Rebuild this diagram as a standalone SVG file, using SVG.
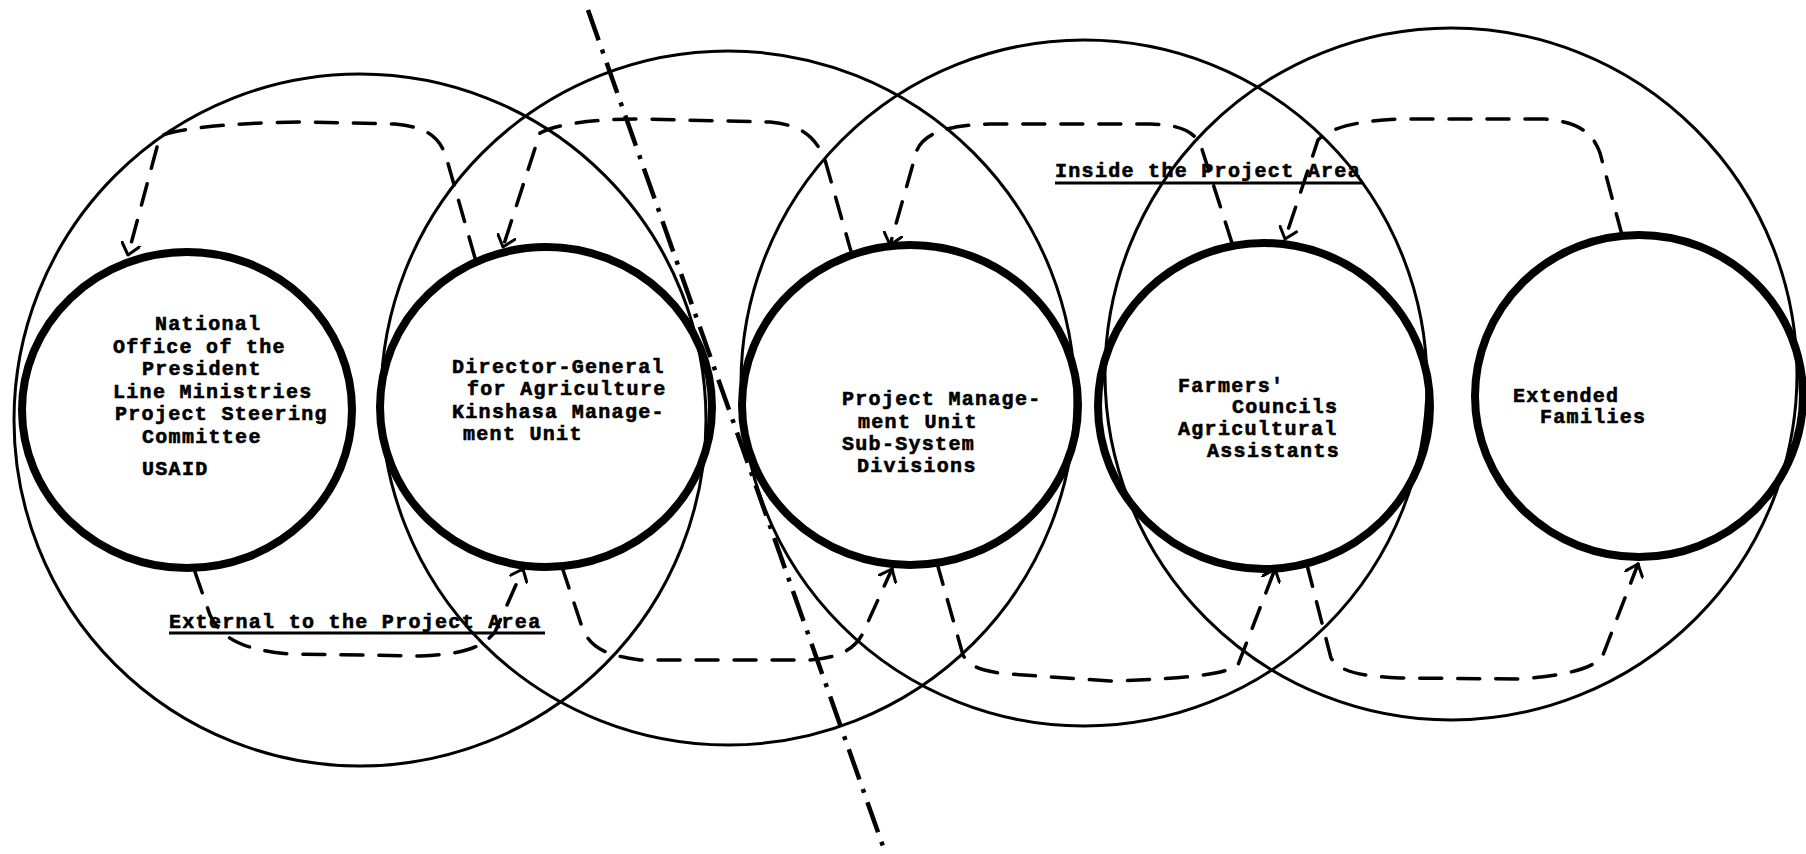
<svg xmlns="http://www.w3.org/2000/svg" width="1806" height="854" viewBox="0 0 1806 854">
  <defs>
    <style>
      .zone { fill: none; stroke: #000; stroke-width: 3; }
      .unit { fill: none; stroke: #000; stroke-width: 8; }
      .flow { fill: none; stroke: #000; stroke-width: 3.5; stroke-dasharray: 22 16; stroke-linecap: round; marker-end: url(#vee); }
      .boundary { fill: none; stroke: #000; stroke-width: 4.5; stroke-dasharray: 32 10 4 10; }
      .lbl { font-family: "Liberation Mono", "DejaVu Sans Mono", monospace; font-size: 20px; font-weight: bold; letter-spacing: 1.3px; fill: #000; stroke: #000; stroke-width: 0.6px; }
      .rule { stroke: #000; stroke-width: 3; }
    </style>
    <marker id="vee" viewBox="0 0 14 20" refX="12" refY="10" markerWidth="14" markerHeight="20" markerUnits="userSpaceOnUse" orient="auto">
      <path d="M0,0 L12,10 L0,20" fill="none" stroke="#000" stroke-width="3" stroke-dasharray="none" stroke-linecap="round" stroke-linejoin="round"/>
    </marker>
  </defs>

  <rect width="1806" height="854" fill="#fff"/>

  <!-- overlapping spheres of influence -->
  <g id="zones">
    <circle class="zone" cx="360" cy="420" r="346"/>
    <circle class="zone" cx="728" cy="398" r="347"/>
    <circle class="zone" cx="1084" cy="383" r="343"/>
    <circle class="zone" cx="1451" cy="374" r="346"/>
  </g>

  <!-- project-area boundary -->
  <g id="boundary">
    <line class="boundary" x1="588" y1="10" x2="885" y2="852"/>
  </g>

  <!-- upward (top) and downward (bottom) information flows -->
  <g id="connectors">
    <path class="flow" d="M475,258 L447,160 C440,135 425,127 395,124 L300,122 C230,123 180,128 160,136 L128,255"/>
    <path class="flow" d="M852,255 L825,160 C815,135 800,125 770,122 L640,119 C590,119 555,125 540,133 L503,247"/>
    <path class="flow" d="M1232,243 L1200,143 C1190,128 1175,125 1150,124 L990,124 C950,125 925,132 917,150 L890,245"/>
    <path class="flow" d="M1622,235 L1600,153 C1592,130 1575,122 1545,119 L1400,119 C1355,121 1330,128 1318,140 L1285,239"/>

    <path class="flow" d="M195,572 L210,615 C222,640 245,650 290,654 L420,656 C460,654 480,650 495,632 L523,569"/>
    <path class="flow" d="M562,567 L582,627 C590,648 605,655 640,660 L810,660 C840,658 855,648 862,635 L892,569"/>
    <path class="flow" d="M937,563 L963,655 C970,668 985,672 1010,674 L1110,681 C1180,679 1225,675 1238,665 L1275,569"/>
    <path class="flow" d="M1307,565 L1331,658 C1340,672 1360,676 1400,678 L1520,679 C1570,675 1595,668 1603,655 L1638,564"/>
  </g>

  <g id="node-national">
    <ellipse class="unit" cx="187" cy="410" rx="165" ry="158"/>
    <text class="lbl" x="155" y="330">National</text>
    <text class="lbl" x="113" y="353">Office of the</text>
    <text class="lbl" x="142" y="375">President</text>
    <text class="lbl" x="113" y="398">Line Ministries</text>
    <text class="lbl" x="115" y="420">Project Steering</text>
    <text class="lbl" x="142" y="443">Committee</text>
    <text class="lbl" x="142" y="475">USAID</text>
  </g>

  <g id="node-director-general">
    <ellipse class="unit" cx="546" cy="407" rx="166" ry="160"/>
    <text class="lbl" x="452" y="373">Director-General</text>
    <text class="lbl" x="467" y="395">for Agriculture</text>
    <text class="lbl" x="452" y="418">Kinshasa Manage-</text>
    <text class="lbl" x="463" y="440">ment Unit</text>
  </g>

  <g id="node-pmu">
    <ellipse class="unit" cx="910" cy="405" rx="168" ry="160"/>
    <text class="lbl" x="842" y="405">Project Manage-</text>
    <text class="lbl" x="858" y="428">ment Unit</text>
    <text class="lbl" x="842" y="450">Sub-System</text>
    <text class="lbl" x="857" y="472">Divisions</text>
  </g>

  <g id="node-farmers">
    <ellipse class="unit" cx="1264" cy="406" rx="166" ry="163"/>
    <text class="lbl" x="1178" y="392">Farmers'</text>
    <text class="lbl" x="1232" y="413">Councils</text>
    <text class="lbl" x="1178" y="435">Agricultural</text>
    <text class="lbl" x="1207" y="457">Assistants</text>
  </g>

  <g id="node-families">
    <ellipse class="unit" cx="1639" cy="396" rx="164" ry="161"/>
    <text class="lbl" x="1513" y="402">Extended</text>
    <text class="lbl" x="1540" y="423">Families</text>
  </g>

  <!-- area captions -->
  <g id="captions">
    <text class="lbl" x="169" y="628">External to the Project Area</text>
    <line class="rule" x1="169" y1="633" x2="545" y2="633"/>
    <text class="lbl" x="1055" y="177">Inside the Project Area</text>
    <line class="rule" x1="1055" y1="183" x2="1362" y2="183"/>
  </g>
</svg>
